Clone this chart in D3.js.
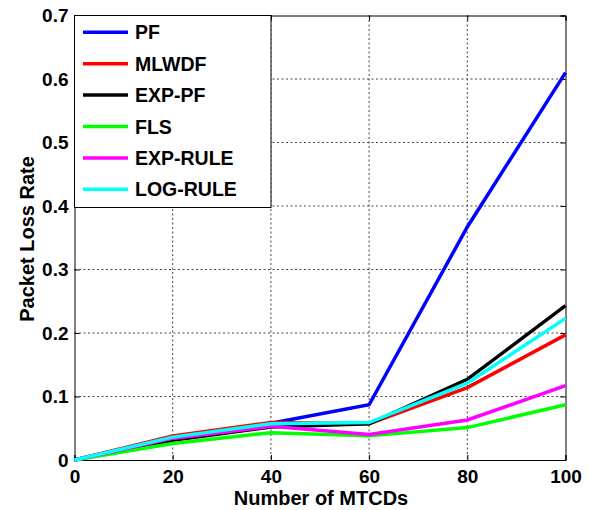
<!DOCTYPE html>
<html><head><meta charset="utf-8">
<script src="https://cdn.jsdelivr.net/npm/d3@7"></script>
<style>body{margin:0;background:#fff}svg{display:block}text{font-family:"Liberation Sans",Arial,sans-serif;font-weight:bold}</style>
</head><body><svg id="c" width="590" height="510"></svg>
<script>
const xValues = [0, 20, 40, 60, 80, 100];
const seriesNames = ["PF", "MLWDF", "EXP-PF", "FLS", "EXP-RULE", "LOG-RULE"];
const seriesColors = ["#0000ff", "#ff0000", "#000000", "#00ff00", "#ff00ff", "#00ffff"];
const pf      = [0, 0.035, 0.058, 0.087, 0.367, 0.610];
const mlwdf   = [0, 0.038, 0.059, 0.057, 0.114, 0.197];
const exppf   = [0, 0.031, 0.052, 0.057, 0.127, 0.243];
const fls     = [0, 0.026, 0.043, 0.038, 0.051, 0.087];
const exprule = [0, 0.034, 0.053, 0.040, 0.063, 0.117];
const logrule = [0, 0.036, 0.057, 0.059, 0.121, 0.223];
const seriesValues = [pf, mlwdf, exppf, fls, exprule, logrule];
const xTicks = [0, 20, 40, 60, 80, 100];
const yTicks = [0, 0.1, 0.2, 0.3, 0.4, 0.5, 0.6, 0.7];
const xLabel = "Number of MTCDs";
const yLabel = "Packet Loss Rate";

const svg = d3.select("#c");
const L = 74.5, R = 565.5, T = 15.5, B = 460;
const x = d3.scaleLinear().domain([0, 100]).range([L, R]);
const y = d3.scaleLinear().domain([0, 0.7]).range([B, T]);

// grid
const g = svg.append("g");
g.selectAll(".vg").data(xTicks.slice(1, -1)).enter().append("line")
  .attr("x1", d => x(d)).attr("x2", d => x(d)).attr("y1", T).attr("y2", B)
  .attr("stroke", "#444").attr("stroke-width", 1).attr("stroke-dasharray", "2,2.5");
g.selectAll(".hg").data(yTicks.slice(1, -1)).enter().append("line")
  .attr("x1", L).attr("x2", R).attr("y1", d => y(d)).attr("y2", d => y(d))
  .attr("stroke", "#444").attr("stroke-width", 1).attr("stroke-dasharray", "2,2.5");

// axes
const xAxis = svg.append("g").attr("transform", `translate(0,${B})`)
  .call(d3.axisBottom(x).tickValues(xTicks).tickSize(-5).tickPadding(10).tickFormat(d3.format("d")));
const yAxis = svg.append("g").attr("transform", `translate(${L},0)`)
  .call(d3.axisLeft(y).tickValues(yTicks).tickSize(-5).tickPadding(6).tickFormat(d => d === 0 ? "0" : d3.format(".1f")(d)));
svg.append("g").attr("transform", `translate(0,${T})`)
  .call(d3.axisTop(x).tickValues(xTicks).tickSize(-5).tickFormat(""));
svg.append("g").attr("transform", `translate(${R},0)`)
  .call(d3.axisRight(y).tickValues(yTicks).tickSize(-5).tickFormat(""));
svg.selectAll(".domain").attr("stroke", "#000").attr("stroke-width", 1);
svg.selectAll(".tick line").attr("stroke", "#000");
svg.selectAll(".tick text").attr("font-size", 19).attr("font-family", "Liberation Sans, Arial, sans-serif")
  .attr("font-weight", "bold").attr("fill", "#000");
xAxis.selectAll(".tick text").attr("dy", "0.71em");

// lines
const line = d3.line().x((d, i) => x(xValues[i])).y(d => y(d));
seriesValues.forEach((s, k) => {
  svg.append("path").datum(s).attr("d", line).attr("fill", "none")
    .attr("stroke", seriesColors[k]).attr("stroke-width", 3.5).attr("stroke-linejoin", "miter");
});

// labels
svg.append("text").attr("x", (L + R) / 2 + 1).attr("y", 504.5).attr("text-anchor", "middle")
  .attr("font-size", 20).text(xLabel);
svg.append("text").attr("transform", "translate(34,239) rotate(-90)").attr("text-anchor", "middle")
  .attr("font-size", 20).text(yLabel);

// legend
const lg = svg.append("g");
lg.append("rect").attr("x", L).attr("y", T).attr("width", 271 - L).attr("height", 207.5 - T)
  .attr("fill", "#fff").attr("stroke", "#000").attr("stroke-width", 1);
seriesNames.forEach((n, k) => {
  const yy = 32.3 + k * 31.4;
  lg.append("line").attr("x1", 83).attr("x2", 128).attr("y1", yy).attr("y2", yy)
    .attr("stroke", seriesColors[k]).attr("stroke-width", 3.5);
  lg.append("text").attr("x", 135).attr("y", yy).attr("dy", "0.36em").attr("font-size", 19.5).text(n);
});
</script></body></html>
